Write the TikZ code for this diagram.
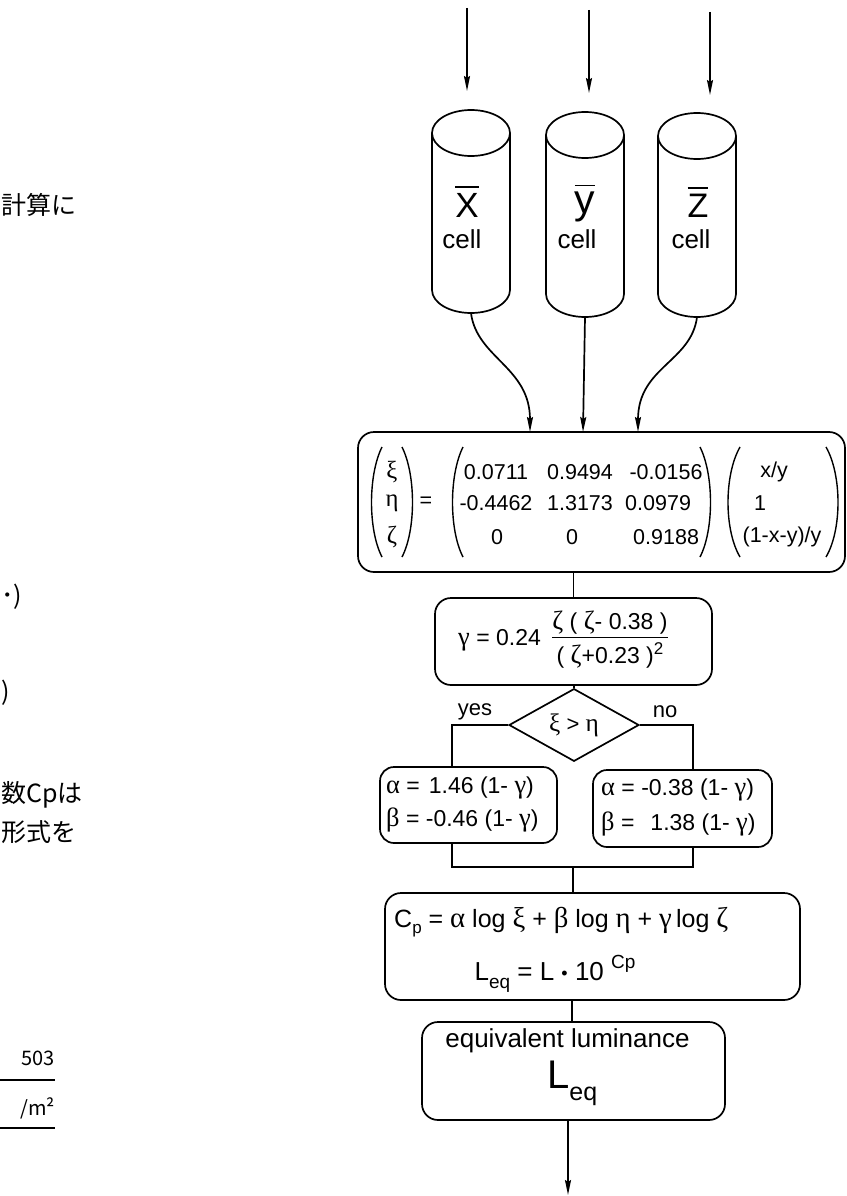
\documentclass[tikz,border=0pt]{standalone}
\usepackage{fontspec}
\setmainfont{Liberation Sans}
\newfontfamily\gk[Scale=1.15]{Liberation Serif}
\newfontfamily\jp{Noto Sans CJK JP}
\usetikzlibrary{arrows.meta,shapes.geometric}
\newcommand\ovl[1]{\leavevmode\vbox{\hrule height 1.6pt\kern 5pt\hbox{#1}}}
\newcommand\gx[1]{{\gk #1}}
\newcommand\fs[1]{\fontsize{#1}{#1}\selectfont}
\begin{document}
\begin{tikzpicture}[x=1pt,y=-1pt,
  ln/.style={line width=1.7pt},
  pl/.style={line width=1.4pt},
  arr/.style={ln,-{Stealth[length=15pt,width=6pt,inset=2pt]}},
  box/.style={draw,ln,rounded corners=16pt,inner sep=0pt},
  t/.style={inner sep=0pt},
  jt/.style={inner sep=0pt,font=\jp\fs{25}}]
\useasboundingbox (0,0) rectangle (846,1196);

% ---- left page fragments
\node[jt,anchor=west] (j1) at (1,205) {計算に};
\node[jt,anchor=west] (j2) at (1,597) {･)};
\node[jt,anchor=west] (j3) at (1,693) {)};
\node[jt,anchor=west] (j4) at (1,795) {数Cpは};
\node[jt,anchor=west] (j5) at (1,832) {形式を};
\node[jt,anchor=east,font=\jp\fs{20}] (n503) at (55,1058) {503};
\node[jt,anchor=east,font=\jp\fs{20}] (nm2) at (55,1108) {/m²};
\coordinate (u1) at (0,1080);
\coordinate (u2) at (0,1128);
\draw[ln] (u1) -- (n503.east |- u1);
\draw[ln] (u2) -- (nm2.east |- u2);

% ---- cylinders
\foreach \cx/\tp/\bt in {471/110/313, 585/112/317, 697/113/317}{
  \draw[ln] (\cx-39,\tp+23) -- (\cx-39,\bt-23)
     arc[start angle=180,end angle=360,x radius=39pt,y radius=23pt]
     -- (\cx+39,\tp+23);
  \draw[ln] (\cx,\tp+23) ellipse [x radius=39pt,y radius=23pt];
}
\node[t,minimum width=78pt,minimum height=203pt] (cx) at (471,211.5) {};
\node[t,minimum width=78pt,minimum height=205pt] (cy) at (585,214.5) {};
\node[t,minimum width=78pt,minimum height=204pt] (cz) at (697,215) {};

\node[t,anchor=base,font=\fs{35}] (lx) at (467,217) {\ovl{X}};
\node[t,anchor=base,font=\fs{41}] (ly) at (585,213) {\ovl{y}};
\node[t,anchor=base,font=\fs{34}] (lz) at (698,217) {\ovl{Z}};
\node[t,anchor=base,font=\fs{26}] (c1) at (462,248) {cell};
\node[t,anchor=base,font=\fs{26}] (c2) at (577,248) {cell};
\node[t,anchor=base,font=\fs{26}] (c3) at (691,248) {cell};

% top arrows
\coordinate (tx) at (467,8);  \coordinate (hx) at (467,91);
\coordinate (ty) at (589,10); \coordinate (hy) at (589,93);
\coordinate (tz) at (710,12); \coordinate (hz) at (710,95);
\draw[arr] (tx) -- (hx);
\draw[arr] (ty) -- (hy);
\draw[arr] (tz) -- (hz);

% ---- matrix box
\node[box,minimum width=487pt,minimum height=140pt] (mat) at (601.5,502) {};
\coordinate (e1) at (530,432);
\coordinate (e2) at (583,432);
\coordinate (e3) at (638,432);
\draw[arr] (cx.south) .. controls +(6,45) and +(0,-65) .. (e1);
\draw[arr] (cy.south) -- (e2);
\draw[arr] (cz.south) .. controls +(-6,45) and +(0,-65) .. (e3);

\begin{scope}[every node/.style={t,font=\fs{21.5}}]
% left vector
\node (v1) at (392,472) {\gx{ξ}};
\node (v2) at (392,503) {\gx{η}};
\node (v3) at (392,537) {\gx{ζ}};
\draw[pl] (382,447) .. controls (368,475) and (368,530) .. (382,557);
\draw[pl] (402,447) .. controls (416,475) and (416,530) .. (402,557);
\node (eqs) at (426,502) {=};
% matrix
\draw[pl] (463,447) .. controls (449,475) and (449,530) .. (463,557);
\draw[pl] (700,447) .. controls (714,475) and (714,530) .. (700,557);
\node (m11) at (496,472) {0.0711};
\node (m12) at (580,472) {0.9494};
\node (m13) at (666,472) {-0.0156};
\node (m21) at (496,503) {-0.4462};
\node (m22) at (580,503) {1.3173};
\node[anchor=west] (m23) at (625,503) {0.0979};
\node (m31) at (497,537) {0};
\node (m32) at (572,537) {0};
\node[anchor=west] (m33) at (633,537) {0.9188};
% right vector
\draw[pl] (740,447) .. controls (724,475) and (724,530) .. (740,557);
\draw[pl] (826,447) .. controls (842,475) and (842,530) .. (826,557);
\node (w1) at (774,472) {x/y};
\node (w2) at (760,503) {1};
\node (w3) at (782,537) {(1-x-y)/y};
\end{scope}

% ---- gamma box
\node[box,minimum width=277pt,minimum height=87pt] (gam) at (573.5,641.5) {};
\draw[ln] (mat.south -| gam.north) -- (gam.north);
\node[t,anchor=west,font=\fs{23}] (g1) at (458,640) {\gx{γ} = 0.24};
\node[t,font=\fs{23}] (g2) at (610,641) {\setlength{\arrayrulewidth}{1.3pt}\setlength{\tabcolsep}{0pt}%
  \renewcommand{\arraystretch}{1.1}\begin{tabular}{c}\gx{ζ} ( \gx{ζ}- 0.38 )\\\hline\rule{0pt}{25pt}( \gx{ζ}+0.23 )\raisebox{9pt}{\fs{17}2}\end{tabular}};

% ---- decision
\node[draw,ln,diamond,minimum width=130pt,minimum height=55pt,inner sep=0pt,font=\fs{22}] (dia) at (574,725) {\gx{ξ} > \gx{η}};
\draw[ln] (gam.south -| dia.north) -- (dia.north);
\node[t,font=\fs{22}] (yes) at (475,712) {yes};
\node[t,font=\fs{22}] (no) at (665,712) {no};

% alpha/beta boxes
\node[box,rounded corners=14pt,minimum width=177pt,minimum height=76pt] (al) at (468.5,805) {};
\node[box,rounded corners=14pt,minimum width=179pt,minimum height=77pt] (ar) at (682.5,808.5) {};
\coordinate (lvt) at (452,767);
\coordinate (rvt) at (693,770);
\draw[ln] (dia.west) -| (lvt);
\draw[ln] (dia.east) -| (rvt);
\node[t,anchor=base west,font=\fs{23}] at (386,793) {\gx{α} =\hspace{9pt}1.46 (1- \gx{γ})};
\node[t,anchor=base west,font=\fs{23}] at (386,826) {\gx{β} = -0.46 (1- \gx{γ})};
\node[t,anchor=base west,font=\fs{23}] at (601,795) {\gx{α} = -0.38 (1- \gx{γ})};
\node[t,anchor=base west,font=\fs{23}] at (601,830) {\gx{β} =\hspace{16pt}1.38 (1- \gx{γ})};

% merge
\coordinate (jl) at (452,867);
\coordinate (jr) at (693,867);
\coordinate (jc) at (573,867);
\draw[ln] (al.south -| jl) -- (jl) -- (jr) -- (ar.south -| jr);

% ---- Cp box
\node[box,minimum width=415pt,minimum height=107pt] (cp) at (592.5,946.5) {};
\draw[ln] (jc) -- (cp.north -| jc);
\node[t,anchor=base west,font=\fs{25}] (cpl) at (394,927) {C\raisebox{-6pt}{\fs{17}p} = \gx{α} log \gx{ξ} + \gx{β} log \gx{η} + \gx{γ}\,log \gx{ζ}};
\node[t,anchor=base,font=\fs{26}] (leq) at (555,980) {L\raisebox{-8pt}{\fs{19}eq} = L \raisebox{1pt}{\fs{18}•} 10 \raisebox{12pt}{\fs{19}Cp}};

% ---- equivalent luminance
\node[box,minimum width=303pt,minimum height=98pt] (eq) at (573.5,1071) {};
\coordinate (cv) at (572,0);
\draw[ln] (cp.south -| cv) -- (eq.north -| cv);
\node[t,anchor=base,font=\fs{26}] (eqt) at (567.5,1047) {equivalent luminance};
\node[t,anchor=base west,font=\fs{40}] (eqL) at (547,1088) {L\raisebox{-12pt}{\fs{25}eq}};
\coordinate (out) at (568,1195);
\draw[arr] (out |- eq.south) -- (out);
\end{tikzpicture}
\end{document}
